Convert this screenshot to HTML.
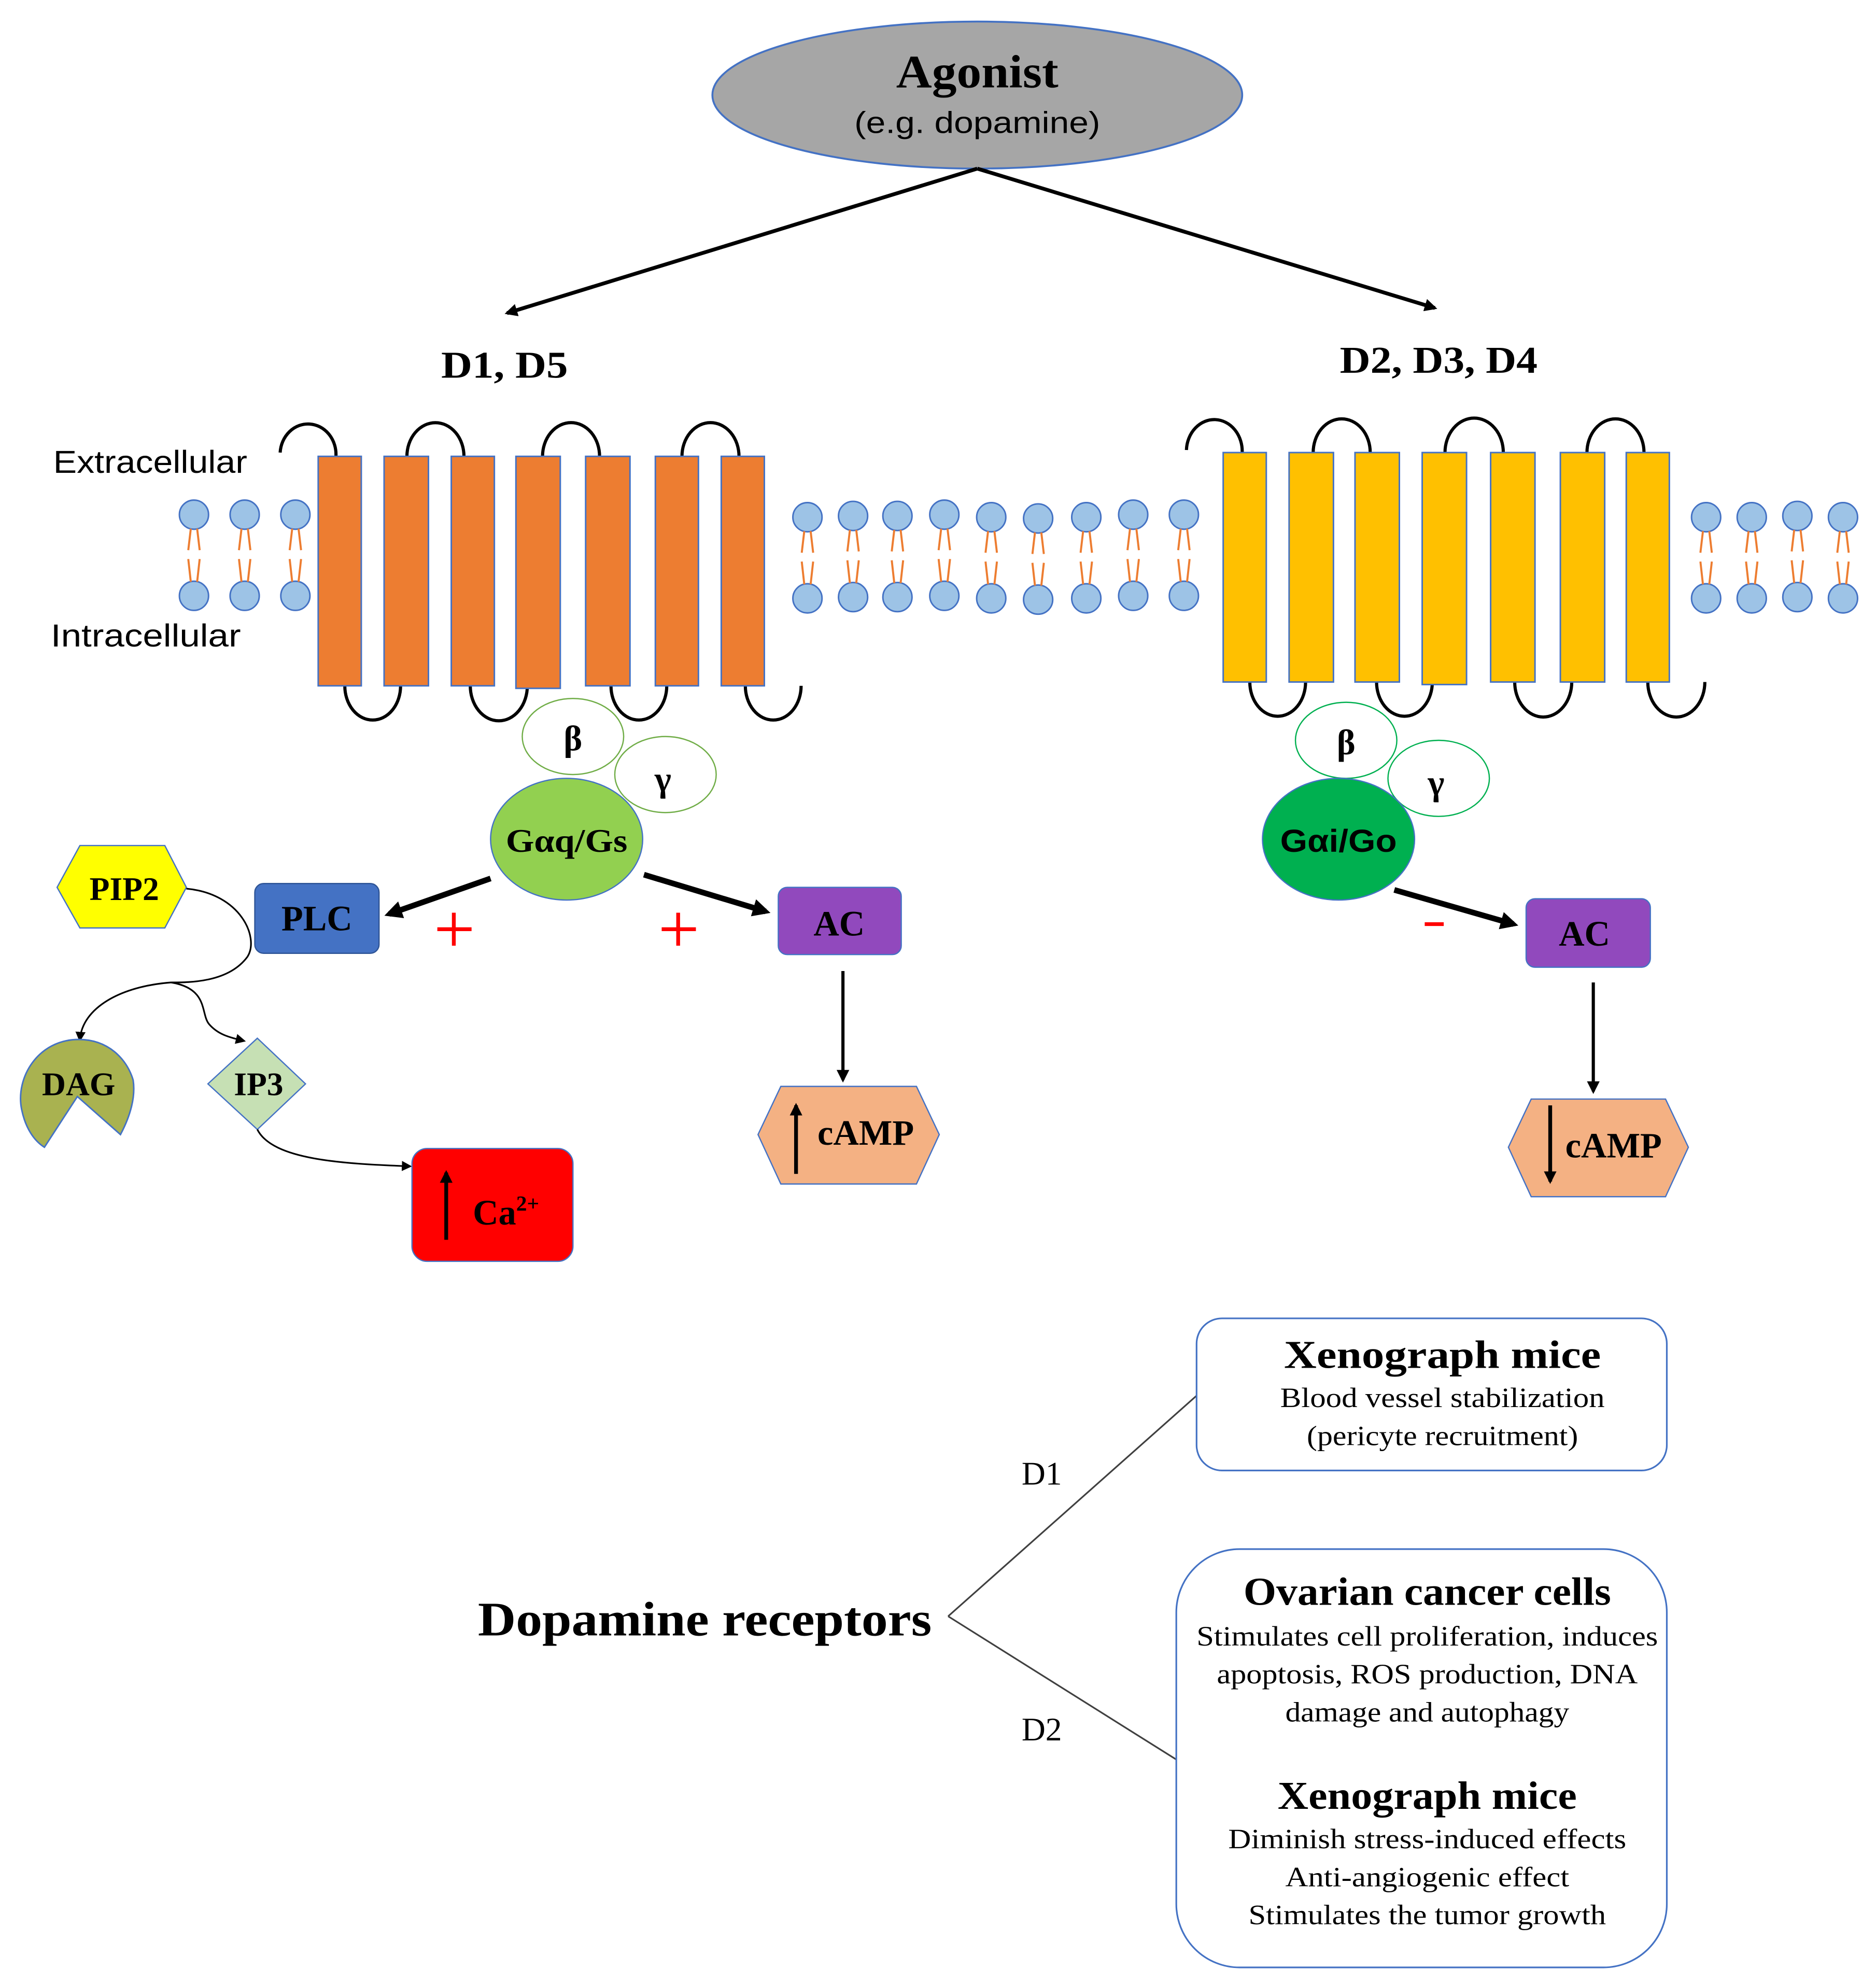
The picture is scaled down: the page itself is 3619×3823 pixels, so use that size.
<!DOCTYPE html>
<html><head><meta charset="utf-8"><style>html,body{margin:0;padding:0;background:#fff}svg{display:block}</style></head>
<body>
<svg width="3619" height="3823" viewBox="0 0 1480 1563.5" xmlns="http://www.w3.org/2000/svg" xmlns:xlink="http://www.w3.org/1999/xlink">
<defs>
<marker id="ah" markerWidth="8" markerHeight="8" refX="6" refY="4" orient="auto" markerUnits="userSpaceOnUse" viewBox="0 0 8 8"><path d="M0,0 L8,4 L0,8 z" fill="#000"/></marker>
<marker id="ahb" markerWidth="14" markerHeight="14" refX="10" refY="7" orient="auto" markerUnits="userSpaceOnUse" viewBox="0 0 14 14"><path d="M0,0 L14,7 L0,14 z" fill="#000"/></marker>
<marker id="ahs" markerWidth="10" markerHeight="10" refX="8" refY="5" orient="auto" markerUnits="userSpaceOnUse" viewBox="0 0 10 10"><path d="M0,0 L10,5 L0,10 z" fill="#000"/></marker>
<g id="lip">
<ellipse cx="0" cy="0" rx="11.5" ry="11.5" fill="#9dc3e6" stroke="#4472c4" stroke-width="1.2"/>
<ellipse cx="0" cy="64" rx="11.5" ry="11.5" fill="#9dc3e6" stroke="#4472c4" stroke-width="1.2"/>
<g stroke="#ed7d31" stroke-width="1.6">
<line x1="-2.5" y1="11" x2="-4.5" y2="28"/><line x1="2.5" y1="11" x2="4.5" y2="28"/>
<line x1="-4.5" y1="35" x2="-2.5" y2="53"/><line x1="4.5" y1="35" x2="2.5" y2="53"/>
</g>
</g>
</defs>

<ellipse cx="771" cy="75" rx="209" ry="58" fill="#a6a6a6" stroke="#4472c4" stroke-width="1.5"/>
<text x="771" y="69" text-anchor="middle" font-family="Liberation Serif, serif" font-weight="bold" font-size="37" textLength="128" lengthAdjust="spacingAndGlyphs">Agonist</text>
<text x="771" y="105" text-anchor="middle" font-family="Liberation Sans, sans-serif" font-size="24" textLength="194" lengthAdjust="spacingAndGlyphs">(e.g. dopamine)</text>
<line x1="771" y1="133" x2="400" y2="247" stroke="#000" stroke-width="3" marker-end="url(#ahs)"/>
<line x1="771" y1="133" x2="1132" y2="243" stroke="#000" stroke-width="3" marker-end="url(#ahs)"/>
<text x="398" y="298" text-anchor="middle" font-family="Liberation Serif, serif" font-weight="bold" font-size="30" textLength="100" lengthAdjust="spacingAndGlyphs">D1, D5</text>
<text x="1135" y="294" text-anchor="middle" font-family="Liberation Serif, serif" font-weight="bold" font-size="30" textLength="156" lengthAdjust="spacingAndGlyphs">D2, D3, D4</text>
<text x="42" y="373" font-family="Liberation Sans, sans-serif" font-size="25" textLength="153" lengthAdjust="spacingAndGlyphs">Extracellular</text>
<text x="40" y="510" font-family="Liberation Sans, sans-serif" font-size="25" textLength="150" lengthAdjust="spacingAndGlyphs">Intracellular</text>

<use xlink:href="#lip" x="153" y="406"/><use xlink:href="#lip" x="193" y="406"/><use xlink:href="#lip" x="233" y="406"/>
<use xlink:href="#lip" x="637" y="408"/><use xlink:href="#lip" x="673" y="407"/><use xlink:href="#lip" x="708" y="407"/><use xlink:href="#lip" x="745" y="406"/><use xlink:href="#lip" x="782" y="408"/><use xlink:href="#lip" x="819" y="409"/><use xlink:href="#lip" x="857" y="408"/><use xlink:href="#lip" x="894" y="406"/><use xlink:href="#lip" x="934" y="406"/>
<use xlink:href="#lip" x="1346" y="408"/><use xlink:href="#lip" x="1382" y="408"/><use xlink:href="#lip" x="1418" y="407"/><use xlink:href="#lip" x="1454" y="408"/>

<g fill="none" stroke="#000" stroke-width="2.5">
<path d="M221,357 A22,24 0 0 1 265,360"/><path d="M321,360 A22,26 0 0 1 366,360"/><path d="M428,360 A22,26 0 0 1 473,360"/><path d="M538,360 A22,26 0 0 1 583,360"/>
<path d="M272,541 A22,27 0 0 0 316,541"/><path d="M371,541 A22,27 0 0 0 416,541"/><path d="M482,541 A22,27 0 0 0 526,541"/><path d="M588,541 A22,27 0 0 0 632,541"/>
</g>
<g fill="#ed7d31" stroke="#4472c4" stroke-width="1.2">
<rect x="251" y="360" width="34" height="181"/><rect x="303" y="360" width="35" height="181"/><rect x="356" y="360" width="34" height="181"/><rect x="407" y="360" width="35" height="183"/><rect x="462" y="360" width="35" height="181"/><rect x="517" y="360" width="34" height="181"/><rect x="569" y="360" width="34" height="181"/>
</g>

<g fill="none" stroke="#000" stroke-width="2.5">
<path d="M936,355 A22,25 0 0 1 980,357"/><path d="M1036,357 A22,26 0 0 1 1081,357"/><path d="M1140,357 A22,26 0 0 1 1186,357"/><path d="M1252,357 A22,26 0 0 1 1297,357"/>
<path d="M986,538 A22,27 0 0 0 1030,538"/><path d="M1086,538 A22,27 0 0 0 1130,538"/><path d="M1195,538 A22,27 0 0 0 1240,538"/><path d="M1300,538 A22,27 0 0 0 1345,538"/>
</g>
<g fill="#ffc000" stroke="#4472c4" stroke-width="1.2">
<rect x="965" y="357" width="34" height="181"/><rect x="1017" y="357" width="35" height="181"/><rect x="1069" y="357" width="35" height="181"/><rect x="1122" y="357" width="35" height="183"/><rect x="1176" y="357" width="35" height="181"/><rect x="1231" y="357" width="35" height="181"/><rect x="1283" y="357" width="34" height="181"/>
</g>

<ellipse cx="452" cy="581" rx="40" ry="30" fill="#fff" stroke="#70ad47" stroke-width="1"/>
<ellipse cx="525" cy="611" rx="40" ry="30" fill="#fff" stroke="#70ad47" stroke-width="1"/>
<text x="452" y="592" text-anchor="middle" font-family="Liberation Serif, serif" font-weight="bold" font-size="28">β</text>
<text x="523" y="624" text-anchor="middle" font-family="Liberation Serif, serif" font-weight="bold" font-size="28">γ</text>
<ellipse cx="447" cy="662" rx="60" ry="48" fill="#92d050" stroke="#4472c4" stroke-width="1"/>
<text x="447" y="672" text-anchor="middle" font-family="Liberation Serif, serif" font-weight="bold" font-size="26" textLength="96" lengthAdjust="spacingAndGlyphs">Gαq/Gs</text>

<ellipse cx="1062" cy="584" rx="40" ry="30" fill="#fff" stroke="#00b050" stroke-width="1"/>
<ellipse cx="1135" cy="614" rx="40" ry="30" fill="#fff" stroke="#00b050" stroke-width="1"/>
<text x="1062" y="595" text-anchor="middle" font-family="Liberation Serif, serif" font-weight="bold" font-size="28">β</text>
<text x="1133" y="627" text-anchor="middle" font-family="Liberation Serif, serif" font-weight="bold" font-size="28">γ</text>
<ellipse cx="1056" cy="662" rx="60" ry="48" fill="#00b050" stroke="#4472c4" stroke-width="1"/>
<text x="1056" y="672" text-anchor="middle" font-family="Liberation Sans, sans-serif" font-weight="bold" font-size="25" textLength="92" lengthAdjust="spacingAndGlyphs">Gαi/Go</text>

<line x1="387" y1="693" x2="307" y2="721" stroke="#000" stroke-width="4.5" marker-end="url(#ahb)"/>
<line x1="508" y1="690" x2="604" y2="719" stroke="#000" stroke-width="4.5" marker-end="url(#ahb)"/>
<line x1="1100" y1="702" x2="1194" y2="729" stroke="#000" stroke-width="4.5" marker-end="url(#ahb)"/>
<g stroke="#ff0000" stroke-width="3">
<line x1="345" y1="733" x2="372" y2="733"/><line x1="358" y1="720" x2="358" y2="746"/>
<line x1="522" y1="733" x2="549" y2="733"/><line x1="535" y1="720" x2="535" y2="746"/>
<line x1="1124" y1="729" x2="1139" y2="729"/>
</g>

<rect x="201" y="697" width="98" height="55" rx="7" fill="#4472c4" stroke="#2f5597" stroke-width="1"/>
<text x="250" y="734" text-anchor="middle" font-family="Liberation Serif, serif" font-weight="bold" font-size="28">PLC</text>
<rect x="614" y="700" width="97" height="53" rx="7" fill="#9149bd" stroke="#4472c4" stroke-width="1"/>
<text x="662" y="738" text-anchor="middle" font-family="Liberation Serif, serif" font-weight="bold" font-size="28">AC</text>
<rect x="1204" y="709" width="98" height="54" rx="7" fill="#9149bd" stroke="#4472c4" stroke-width="1"/>
<text x="1250" y="746" text-anchor="middle" font-family="Liberation Serif, serif" font-weight="bold" font-size="28">AC</text>

<polygon points="45,700 63,667 130,667 147,700 130,732 63,732" fill="#ffff00" stroke="#4472c4" stroke-width="1"/>
<text x="98" y="710" text-anchor="middle" font-family="Liberation Serif, serif" font-weight="bold" font-size="26">PIP2</text>
<path d="M147,701 C190,705 205,740 195,755 C180,775 150,775 135,775" fill="none" stroke="#000" stroke-width="1.3"/>
<path d="M135,775 C95,778 65,795 63,820" fill="none" stroke="#000" stroke-width="1.3" marker-end="url(#ah)"/>
<path d="M135,775 C165,780 158,800 165,808 C172,816 180,818 192,821" fill="none" stroke="#000" stroke-width="1.3" marker-end="url(#ah)"/>
<path d="M62,820 C30,820 12,850 17,875 C20,890 27,900 35,905 L61,865 L95,895 C103,880 107,865 105,852 C100,835 85,820 62,820 Z" fill="#a9b250" stroke="#4472c4" stroke-width="1.2"/>
<text x="62" y="864" text-anchor="middle" font-family="Liberation Serif, serif" font-weight="bold" font-size="26">DAG</text>
<polygon points="203,819 241,855 203,891 164,855" fill="#c6e0b4" stroke="#4472c4" stroke-width="1"/>
<text x="204" y="864" text-anchor="middle" font-family="Liberation Serif, serif" font-weight="bold" font-size="26">IP3</text>
<path d="M203,891 C215,915 270,918 323,920" fill="none" stroke="#000" stroke-width="1.3" marker-end="url(#ah)"/>
<rect x="325" y="906" width="127" height="89" rx="12" fill="#ff0000" stroke="#4472c4" stroke-width="1"/>
<line x1="352" y1="978" x2="352" y2="925" stroke="#000" stroke-width="3" marker-end="url(#ahs)"/>
<text x="373" y="966" font-family="Liberation Serif, serif" font-weight="bold" font-size="28">Ca<tspan dy="-11" font-size="17">2+</tspan></text>

<line x1="665" y1="766" x2="665" y2="852" stroke="#000" stroke-width="2.5" marker-end="url(#ahs)"/>
<polygon points="598,895 616,857 723,857 741,895 723,934 616,934" fill="#f4b183" stroke="#4472c4" stroke-width="1"/>
<line x1="628" y1="926" x2="628" y2="872" stroke="#000" stroke-width="3" marker-end="url(#ahs)"/>
<text x="683" y="903" text-anchor="middle" font-family="Liberation Serif, serif" font-weight="bold" font-size="28">cAMP</text>
<line x1="1257" y1="775" x2="1257" y2="861" stroke="#000" stroke-width="2.5" marker-end="url(#ahs)"/>
<polygon points="1190,905 1208,867 1314,867 1332,905 1314,944 1208,944" fill="#f4b183" stroke="#4472c4" stroke-width="1"/>
<line x1="1223" y1="872" x2="1223" y2="932" stroke="#000" stroke-width="3" marker-end="url(#ahs)"/>
<text x="1273" y="913" text-anchor="middle" font-family="Liberation Serif, serif" font-weight="bold" font-size="28">cAMP</text>

<text x="377" y="1290" font-family="Liberation Serif, serif" font-weight="bold" font-size="38" textLength="358" lengthAdjust="spacingAndGlyphs">Dopamine receptors</text>
<line x1="748" y1="1275" x2="944" y2="1101" stroke="#404040" stroke-width="1.3"/>
<line x1="748" y1="1275" x2="928" y2="1388" stroke="#404040" stroke-width="1.3"/>
<text x="806" y="1171" font-family="Liberation Serif, serif" font-size="26">D1</text>
<text x="806" y="1373" font-family="Liberation Serif, serif" font-size="26">D2</text>

<rect x="944" y="1040" width="371" height="120" rx="20" fill="#fff" stroke="#4472c4" stroke-width="1.3"/>
<g font-family="Liberation Serif, serif" text-anchor="middle" lengthAdjust="spacingAndGlyphs">
<text x="1138" y="1079" font-weight="bold" font-size="31" textLength="250" lengthAdjust="spacingAndGlyphs">Xenograph mice</text>
<text x="1138" y="1110" font-size="22" textLength="256" lengthAdjust="spacingAndGlyphs">Blood vessel stabilization</text>
<text x="1138" y="1140" font-size="22" textLength="214" lengthAdjust="spacingAndGlyphs">(pericyte recruitment)</text>
</g>
<rect x="928" y="1222" width="387" height="330" rx="50" fill="#fff" stroke="#4472c4" stroke-width="1.3"/>
<g font-family="Liberation Serif, serif" text-anchor="middle">
<text x="1126" y="1266" font-weight="bold" font-size="31" textLength="290" lengthAdjust="spacingAndGlyphs">Ovarian cancer cells</text>
<text x="1126" y="1298" font-size="22" textLength="364" lengthAdjust="spacingAndGlyphs">Stimulates cell proliferation, induces</text>
<text x="1126" y="1328" font-size="22" textLength="332" lengthAdjust="spacingAndGlyphs">apoptosis, ROS production, DNA</text>
<text x="1126" y="1358" font-size="22" textLength="224" lengthAdjust="spacingAndGlyphs">damage and autophagy</text>
<text x="1126" y="1427" font-weight="bold" font-size="31" textLength="236" lengthAdjust="spacingAndGlyphs">Xenograph mice</text>
<text x="1126" y="1458" font-size="22" textLength="314" lengthAdjust="spacingAndGlyphs">Diminish stress-induced effects</text>
<text x="1126" y="1488" font-size="22" textLength="224" lengthAdjust="spacingAndGlyphs">Anti-angiogenic effect</text>
<text x="1126" y="1518" font-size="22" textLength="282" lengthAdjust="spacingAndGlyphs">Stimulates the tumor growth</text>
</g>
</svg>
</body></html>
